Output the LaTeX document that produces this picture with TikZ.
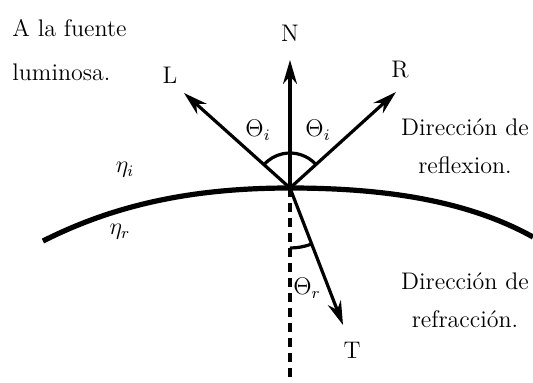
\documentclass[tikz,border=0pt]{standalone}
\usepackage{amsmath,amssymb}
\usetikzlibrary{arrows.meta, positioning, calc}

\begin{document}
\begin{tikzpicture}[x=0.5pt, y=0.5pt, font=\fontsize{12}{19}\selectfont,
    vec/.style={line width=1.6pt, -{Stealth[length=12pt, width=7pt]}},
    angarc/.style={line width=1.6pt},
    txt/.style={align=center, inner sep=0pt}]
    \useasboundingbox (0,0) rectangle (533,382);
    \coordinate (P) at (290,194);
    \coordinate (Ntip) at (290,322);
    \coordinate (Ltip) at (184,289);
    \coordinate (Rtip) at (396,290);
    \coordinate (Ttip) at (343,57);
    \coordinate (Nbot) at (290,0);
    \coordinate (Sleft) at (43,141);
    \coordinate (Sright) at (533,145);
    % surface between the two media
    \draw[line width=2.6pt] (Sleft) .. controls (120,180) and (200,194) .. (P)
        .. controls (390,194) and (470,180) .. (Sright);
    \draw[line width=1.6pt, dash pattern=on 4.5pt off 3pt] (P) -- (Nbot);
    \draw[vec] (P) -- (Ntip);
    \draw[vec] (P) -- (Ltip);
    \draw[vec] (P) -- (Rtip);
    \draw[vec] (P) -- (Ttip);
    \draw[angarc] ($(P)+(42:35)$) arc[start angle=42, end angle=138, radius=35];
    \draw[angarc] ($(P)+(270:60)$) arc[start angle=270, end angle=291, radius=60];
    \node (N) at (290,349) {N};
    \node (L) at (170,307) {L};
    \node (R) at (400,312) {R};
    \node (T) at (352,32) {T};
    \node (thl) at (258,252) {$\Theta_i$};
    \node (thr) at (318,252) {$\Theta_i$};
    \node (thT) at (307,94) {$\Theta_r$};
    \node (etai) at (125,212) {$\eta_i$};
    \node (etar) at (120,150) {$\eta_r$};
    \node[txt, align=left, anchor=west] (fuente) at (12,332) {A la fuente\\[3pt]luminosa.};
    \node[txt] (refl) at (465,236) {Dirección de\\reflexion.};
    \node[txt] (refr) at (465,82) {Dirección de\\refracción.};
\end{tikzpicture}
\end{document}
